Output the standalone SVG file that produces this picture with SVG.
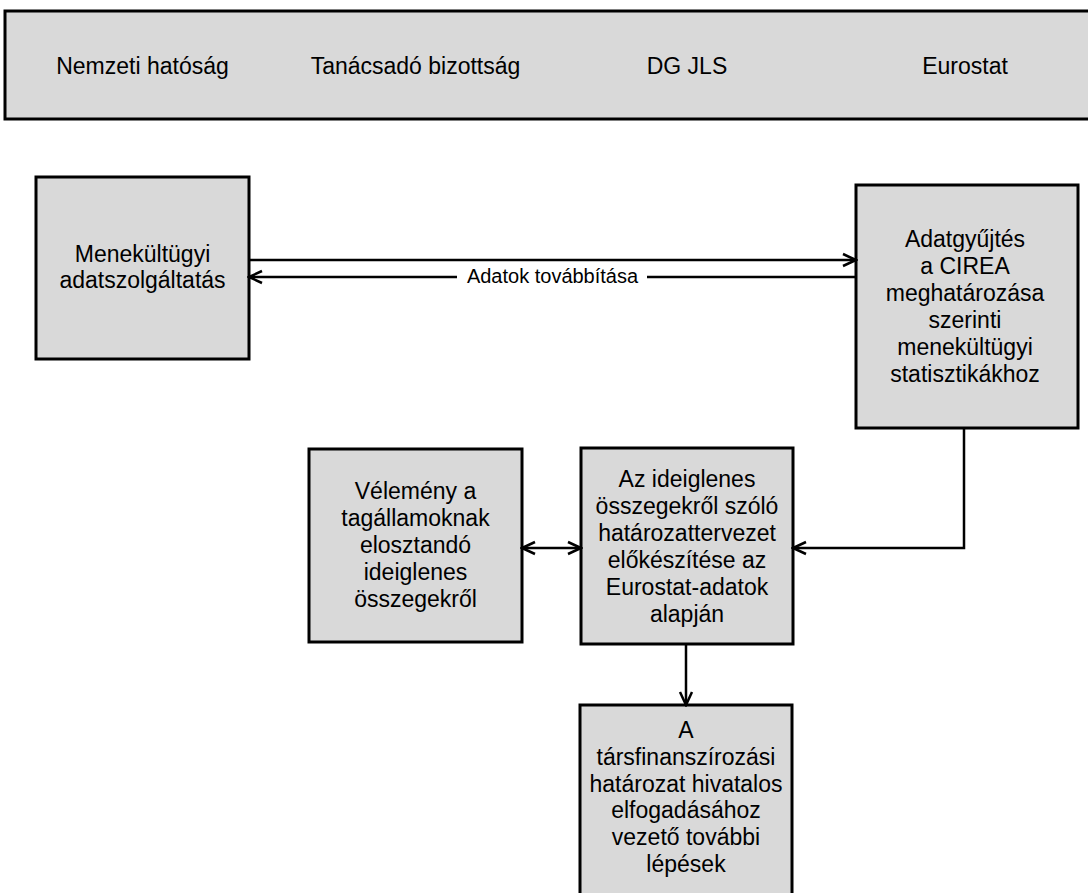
<svg xmlns="http://www.w3.org/2000/svg" width="1088" height="893" viewBox="0 0 1088 893">
<style>
.box{fill:#d9d9d9;stroke:#000;stroke-width:3}
.t{font-family:"Liberation Sans",Arial,sans-serif;font-size:23px;fill:#000;text-anchor:middle}
.lbl{font-family:"Liberation Sans",Arial,sans-serif;font-size:20px;fill:#000;text-anchor:middle}
.c{fill:none;stroke:#000;stroke-width:2.5}
</style>
<defs>
<marker id="arr" markerUnits="userSpaceOnUse" markerWidth="16" markerHeight="16" viewBox="0 0 16 16" refX="14" refY="8" orient="auto-start-reverse">
<path d="M1,2 L14,8 L1,14" fill="none" stroke="#000" stroke-width="2.5"/>
</marker>
</defs>
<rect width="1088" height="893" fill="#fff"/>
<g id="header">
<rect x="5" y="11" width="1100" height="108" class="box"/>
<text class="t" x="142.5" y="74">Nemzeti hatóság</text>
<text class="t" x="415.5" y="74">Tanácsadó bizottság</text>
<text class="t" x="687" y="74">DG JLS</text>
<text class="t" x="965" y="74">Eurostat</text>
</g>
<g id="node-menekultugyi">
<rect x="36" y="177" width="213" height="182" class="box"/>
<text class="t" x="142.5" y="262">Menekültügyi</text>
<text class="t" x="142.5" y="288">adatszolgáltatás</text>
</g>
<g id="node-adatgyujtes">
<rect x="856" y="185" width="222" height="243" class="box"/>
<text class="t" x="965" y="247">Adatgyűjtés</text>
<text class="t" x="965" y="274">a CIREA</text>
<text class="t" x="965" y="301">meghatározása</text>
<text class="t" x="965" y="328">szerinti</text>
<text class="t" x="965" y="355">menekültügyi</text>
<text class="t" x="965" y="382">statisztikákhoz</text>
</g>
<g id="node-velemeny">
<rect x="309" y="449" width="213" height="193" class="box"/>
<text class="t" x="415.5" y="499">Vélemény a</text>
<text class="t" x="415.5" y="526">tagállamoknak</text>
<text class="t" x="415.5" y="553">elosztandó</text>
<text class="t" x="415.5" y="580">ideiglenes</text>
<text class="t" x="415.5" y="607">összegekről</text>
</g>
<g id="node-hatarozattervezet">
<rect x="581" y="448" width="212" height="196" class="box"/>
<text class="t" x="687" y="487">Az ideiglenes</text>
<text class="t" x="687" y="514">összegekről szóló</text>
<text class="t" x="687" y="541">határozattervezet</text>
<text class="t" x="687" y="568">előkészítése az</text>
<text class="t" x="687" y="595">Eurostat-adatok</text>
<text class="t" x="687" y="622">alapján</text>
</g>
<g id="node-tovabbi-lepesek">
<rect x="580" y="705" width="212" height="200" class="box"/>
<text class="t" x="686" y="738">A</text>
<text class="t" x="686" y="765">társfinanszírozási</text>
<text class="t" x="686" y="792">határozat hivatalos</text>
<text class="t" x="686" y="818">elfogadásához</text>
<text class="t" x="686" y="845">vezető további</text>
<text class="t" x="686" y="872">lépések</text>
</g>
<g id="connectors">
<path class="c" d="M249,260 H856" marker-end="url(#arr)"/>
<path class="c" d="M856,277 H647 M457,277 H249" marker-end="url(#arr)"/>
<text class="lbl" x="552.5" y="283">Adatok továbbítása</text>
<path class="c" d="M522,548 H581" marker-start="url(#arr)" marker-end="url(#arr)"/>
<path class="c" d="M964,428 V548 H793" marker-end="url(#arr)"/>
<path class="c" d="M686,644 V705" marker-end="url(#arr)"/>
</g>
</svg>
